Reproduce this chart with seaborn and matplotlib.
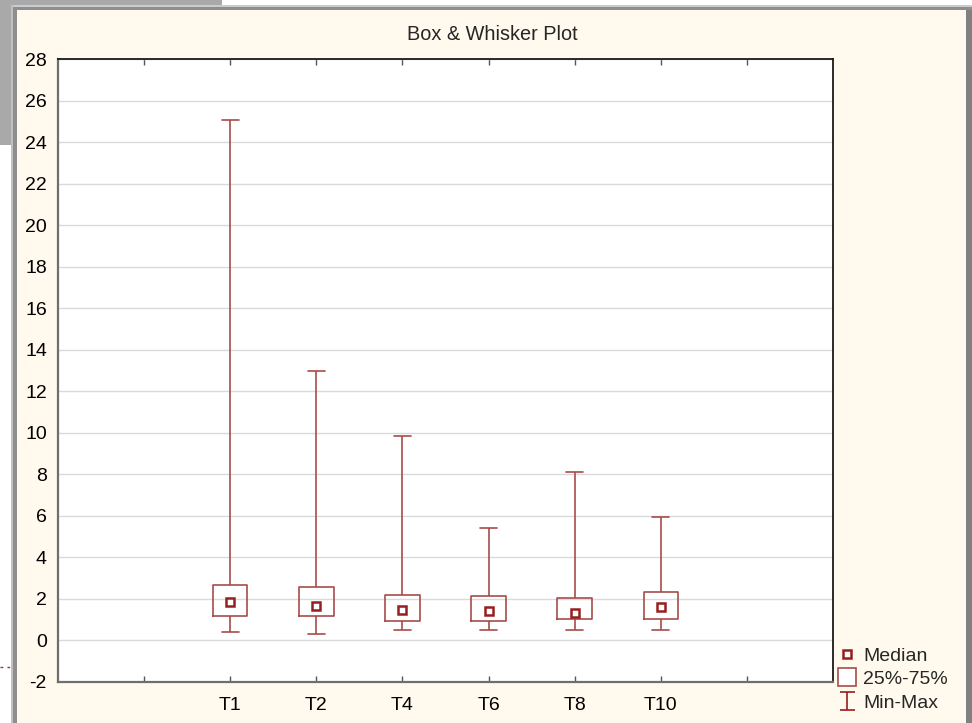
import numpy as np
import pandas as pd
import matplotlib
matplotlib.use("Agg")
import matplotlib.pyplot as plt
from matplotlib.patches import Rectangle
from matplotlib.lines import Line2D
from matplotlib.path import Path
import seaborn as sns

# Five-number summaries per group
groups = ["T1", "T2", "T4", "T6", "T8", "T10"]
mins = [0.42, 0.30, 0.50, 0.50, 0.50, 0.50]
q1s = [1.19, 1.19, 0.92, 0.92, 1.02, 1.02]
medians = [1.85, 1.67, 1.48, 1.43, 1.31, 1.60]
q3s = [2.66, 2.57, 2.20, 2.16, 2.06, 2.33]
maxs = [25.06, 12.97, 9.84, 5.41, 8.11, 5.94]
y_ticks = list(range(-2, 29, 2))

W, H = 972, 723
CREAM = "#FFF9EE"
BOX_RED = "#A84C4C"
MED_RED = "#961E1E"
FS = 14

sns.set_style("white")
plt.rcParams["font.family"] = ["Liberation Sans", "DejaVu Sans"]
plt.rcParams["axes.unicode_minus"] = False

# Five points per group reproduce min / quartiles / median / max exactly
long = pd.DataFrame({
    "group": np.repeat(groups, 5),
    "value": np.column_stack([mins, q1s, medians, q3s, maxs]).ravel(),
})
med_df = pd.DataFrame({"group": groups, "value": medians})

fig = plt.figure(figsize=(W / 100, H / 100), dpi=100)
fig.patch.set_facecolor(CREAM)


def px_rect(x0, y0, x1, y1, color):
    fig.add_artist(Rectangle((x0 / W, 1 - y1 / H), (x1 - x0) / W, (y1 - y0) / H,
                             transform=fig.transFigure, facecolor=color,
                             edgecolor="none", zorder=-5))


# Window frame around the graph panel
px_rect(0, 0, 222, 5, "#A9A9A9")
px_rect(222, 0, W, 5, "#FFFFFF")
px_rect(0, 5, 11, 145, "#A9A9A9")
px_rect(0, 145, 11, H, "#FFFFFF")
px_rect(11, 5, W, 7, "#C9CBCF")
px_rect(14, 7, W, 10, "#8E8E8E")
px_rect(11, 5, 13, H, "#C0C0C0")
px_rect(13, 7, 17, H, "#8E8E8E")
px_rect(966, 10, W, H, "#808080")
fig.add_artist(Line2D([0, 11 / W], [1 - 667 / H] * 2, transform=fig.transFigure,
                      color="#A03030", lw=1, ls=(0, (2, 3))))

ax = fig.add_axes([58 / W, 1 - 682 / H, 775 / W, 623 / H])
ax.set_facecolor("white")

sns.boxplot(data=long, x="group", y="value", order=groups, whis=(0, 100),
            showfliers=False, fill=False, color=BOX_RED, width=0.4,
            linewidth=1.2, medianprops={"linewidth": 0, "alpha": 0}, ax=ax)
sns.pointplot(data=med_df, x="group", y="value", order=groups, errorbar=None,
              markers="s", linestyles="none", color=MED_RED, markersize=5.5,
              markerfacecolor="white", markeredgecolor=MED_RED,
              markeredgewidth=1.8, ax=ax)

ax.set_xlim(-2, 7)
ax.set_ylim(-2, 28)
ax.set_yticks(y_ticks)
ax.set_xticks(range(-1, 7))
ax.set_xticklabels([""] + groups + [""])
ax.set_xlabel("")
ax.set_ylabel("")
ax.yaxis.grid(True, color="#DADADA", lw=1)
ax.xaxis.grid(False)
ax.set_axisbelow(True)
ax.tick_params(axis="y", direction="in", length=4, width=1, color="#555555",
               labelsize=FS, pad=8, labelcolor="black")
ax.tick_params(axis="x", direction="in", length=4, width=1, color="#555555",
               top=True, bottom=True, labelsize=FS, pad=11, labelcolor="black")
for side in ("top", "right"):
    ax.spines[side].set_color("#1A1A1A")
    ax.spines[side].set_linewidth(1.3)
for side in ("left", "bottom"):
    ax.spines[side].set_color("#6E6E6E")
    ax.spines[side].set_linewidth(1.6)

fig.text(492 / W, 1 - 34 / H, "Box & Whisker Plot", ha="center", va="center",
         fontsize=14.3)

# I-beam glyph for the whisker range legend entry
ibeam = Path([(-0.4, 0.5), (0.4, 0.5), (0, 0.5), (0, -0.5), (-0.4, -0.5), (0.4, -0.5)],
             [Path.MOVETO, Path.LINETO, Path.MOVETO, Path.LINETO,
              Path.MOVETO, Path.LINETO])
handles = [
    Line2D([], [], ls="none", marker="s", markersize=5.5, markerfacecolor="white",
           markeredgecolor=MED_RED, markeredgewidth=1.8),
    Line2D([], [], ls="none", marker="s", markersize=12.5, markerfacecolor="white",
           markeredgecolor=BOX_RED, markeredgewidth=1.2),
    Line2D([], [], ls="none", marker=ibeam, markersize=13.5, markerfacecolor="none",
           markeredgecolor=MED_RED, markeredgewidth=1.2),
]
fig.legend(handles, ["Median", "25%-75%", "Min-Max"], loc="upper left",
           bbox_to_anchor=(837 / W, 1 - 647 / H), frameon=False, fontsize=FS,
           handlelength=1.0, handletextpad=0.35, labelspacing=0.3,
           borderpad=0, borderaxespad=0)

fig.savefig("out.png", dpi=100, facecolor=fig.get_facecolor())
